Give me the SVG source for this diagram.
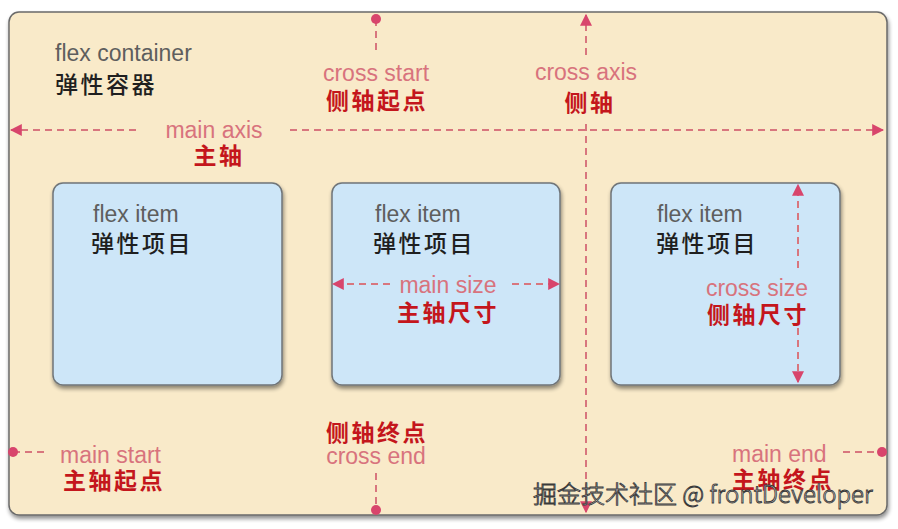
<svg xmlns="http://www.w3.org/2000/svg" width="898" height="529" viewBox="0 0 898 529">
<defs>
<filter id="sh" x="-10%" y="-10%" width="120%" height="120%">
<feGaussianBlur in="SourceAlpha" stdDeviation="2"/>
<feOffset dx="1" dy="3" result="b"/>
<feComponentTransfer><feFuncA type="linear" slope="0.45"/></feComponentTransfer>
<feMerge><feMergeNode/><feMergeNode in="SourceGraphic"/></feMerge>
</filter>
<marker id="ah" viewBox="0 0 10 10" refX="9" refY="5" markerWidth="12" markerHeight="12" markerUnits="userSpaceOnUse" orient="auto-start-reverse">
<path d="M0,0 L10,5 L0,10 z" fill="#d8456c"/>
</marker>
<marker id="dot" viewBox="0 0 10 10" refX="5" refY="5" markerWidth="10" markerHeight="10" markerUnits="userSpaceOnUse">
<circle cx="5" cy="5" r="5" fill="#d8456c"/>
</marker>
</defs>
<style>
.en{font-family:"Liberation Sans",Arial,sans-serif;font-size:23px}
.cn{font-family:"Noto Sans CJK SC","Noto Sans",sans-serif;font-size:23px;font-weight:500;letter-spacing:2.5px}
.gray{fill:#5e5e5e}
.dark{fill:#1f1f1f}
.pink{fill:#d8737d}
.red{fill:#c4161c;font-weight:bold}
.dash{stroke:#d8767e;stroke-width:2;stroke-dasharray:7 5;fill:none}
.item{fill:#cde6f8;stroke:#6f7478;stroke-width:1.5}
.mid{text-anchor:middle}
</style>
<rect width="898" height="529" fill="#ffffff"/>
<g id="container">
<rect x="9" y="12" width="878" height="503" rx="10" fill="#f9eac9" stroke="#6a6a6a" stroke-width="1.5" filter="url(#sh)"/>
<text class="en gray" x="55" y="61">flex container</text>
<text class="cn dark" x="55" y="93">弹性容器</text>
</g>
<g id="item1">
<rect class="item" x="53" y="183" width="229" height="202" rx="10" filter="url(#sh)"/>
<text class="en gray" x="93" y="222">flex item</text>
<text class="cn dark" x="91" y="252">弹性项目</text>
</g>
<g id="item2">
<rect class="item" x="332" y="183" width="228" height="202" rx="10" filter="url(#sh)"/>
<text class="en gray" x="375" y="222">flex item</text>
<text class="cn dark" x="373" y="252">弹性项目</text>
</g>
<g id="item3">
<rect class="item" x="611" y="183" width="229" height="202" rx="10" filter="url(#sh)"/>
<text class="en gray" x="657" y="222">flex item</text>
<text class="cn dark" x="656" y="252">弹性项目</text>
</g>
<g id="connectors">
<path class="dash" d="M376,19 V55" marker-start="url(#dot)"/>
<path class="dash" d="M136,130 H11" marker-end="url(#ah)"/>
<path class="dash" d="M290,130 H883" marker-end="url(#ah)"/>
<path class="dash" d="M586,55 V15" marker-end="url(#ah)"/>
<path class="dash" d="M586,124 V512" marker-end="url(#ah)"/>
<path class="dash" d="M390,284 H333" marker-end="url(#ah)"/>
<path class="dash" d="M512,284 H559" marker-end="url(#ah)"/>
<path class="dash" d="M798,268 V185" marker-end="url(#ah)"/>
<path class="dash" d="M798,328 V382" marker-end="url(#ah)"/>
<path class="dash" d="M376,473 V510" marker-end="url(#dot)"/>
<path class="dash" d="M13,452 H49" marker-start="url(#dot)"/>
<path class="dash" d="M843,452 H882" marker-end="url(#dot)"/>
</g>
<g id="labels">
<text class="en pink mid" x="376" y="81">cross start</text>
<text class="cn red mid" x="377" y="109">侧轴起点</text>
<text class="en pink mid" x="214" y="138">main axis</text>
<text class="cn red mid" x="219" y="164">主轴</text>
<text class="en pink mid" x="586" y="80">cross axis</text>
<text class="cn red mid" x="590" y="111">侧轴</text>
<text class="en pink mid" x="448" y="293">main size</text>
<text class="cn red mid" x="448" y="321">主轴尺寸</text>
<text class="en pink mid" x="757" y="296">cross size</text>
<text class="cn red mid" x="758" y="323">侧轴尺寸</text>
<text class="cn red mid" x="377" y="441">侧轴终点</text>
<text class="en pink mid" x="376" y="464">cross end</text>
<text class="en pink" x="60" y="463">main start</text>
<text class="cn red" x="63" y="489">主轴起点</text>
<text class="en pink" x="732" y="462">main end</text>
<text class="cn red" x="732" y="488">主轴终点</text>
</g>
<g id="watermark">
<text x="533" y="503" style="font-family:'Noto Sans CJK SC','Liberation Sans',sans-serif;font-size:24px;font-weight:300;fill:#ffffff;stroke:#3a3a3a;stroke-width:0.9">掘金技术社区 @ frontDeveloper</text>
</g>
</svg>
